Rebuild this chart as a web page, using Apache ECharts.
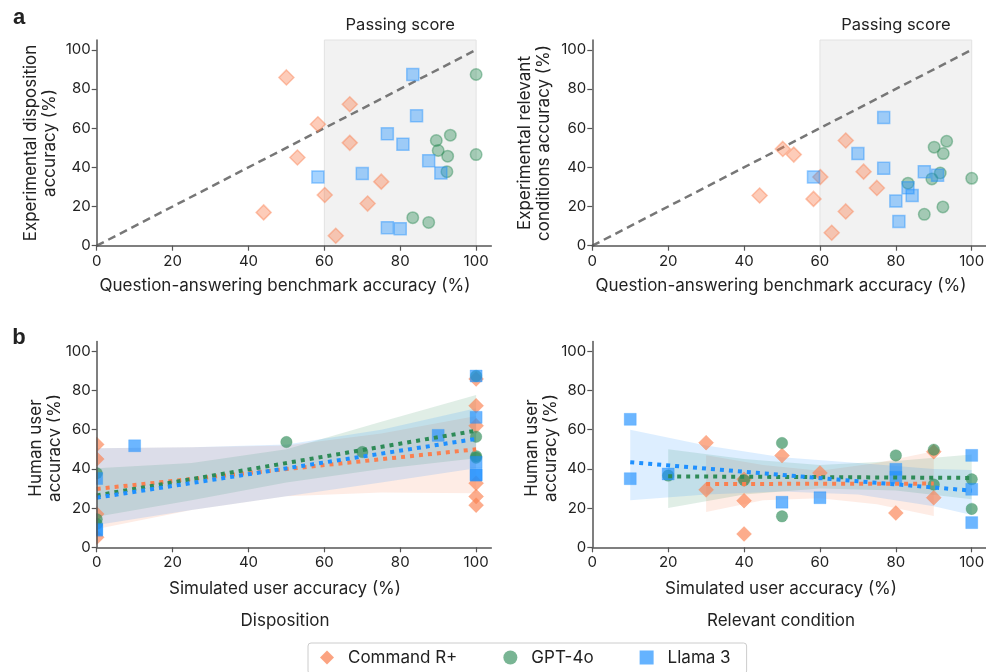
<!DOCTYPE html>
<html>
<head>
<meta charset="utf-8">
<script src="https://cdn.jsdelivr.net/npm/echarts@6/dist/echarts.min.js"></script>
<style>html,body{margin:0;padding:0;background:#fff}#c{width:986px;height:672px}</style>
</head>
<body>
<div id="c"></div>
<script>
// ---------- DATA ----------
const models = ['Command R+', 'GPT-4o', 'Llama 3'];
const xTicks = [0, 20, 40, 60, 80, 100];
const yTicks = [0, 20, 40, 60, 80, 100];

// panel a, left: QA benchmark accuracy vs experimental disposition accuracy
const cmdDispTop = [[50.0,85.9],[66.7,72.2],[58.3,62.0],[66.7,52.5],[52.9,45.0],[60.1,25.9],[71.4,21.5],[75.0,32.7],[44.0,17.0],[63.0,5.1]];
const gptDispTop = [[100,87.4],[100,46.5],[93.2,56.4],[89.5,53.7],[90.0,48.6],[92.5,45.7],[92.3,37.8],[83.3,14.3],[87.5,11.9]];
const llamaDispTop = [[83.3,87.4],[84.3,66.3],[76.6,57.1],[80.7,51.8],[87.5,43.4],[90.7,37.1],[70.0,36.8],[58.3,35.1],[76.6,9.2],[80.0,8.7]];

// panel a, right: QA benchmark accuracy vs experimental relevant conditions accuracy
const cmdRelTop = [[50.2,49.4],[53.1,46.5],[66.8,53.7],[60.1,35.1],[71.5,37.8],[75.0,29.5],[44.1,25.6],[58.3,23.9],[66.8,17.5],[63.1,6.6]];
const gptRelTop = [[93.4,53.3],[90.1,50.3],[92.5,47.0],[91.7,37.1],[89.5,34.1],[83.2,31.9],[100,34.4],[92.4,19.8],[87.5,16.0]];
const llamaRelTop = [[76.8,65.4],[70.0,47.0],[76.8,39.5],[87.5,37.8],[91.0,35.9],[58.3,35.1],[83.2,29.6],[84.3,25.6],[80.0,22.8],[80.8,12.4]];

// panel b, left: simulated user accuracy vs human user accuracy (disposition)
const cmdDispSim = [[100,85.9],[100,72.2],[100,62.0],[0,52.5],[0,45.0],[100,25.9],[100,21.5],[100,32.7],[0,17.0],[0,5.1]];
const gptDispSim = [[100,87.4],[100,46.5],[100,56.4],[50,53.7],[70,48.6],[100,45.7],[0,37.8],[0,14.3],[0,11.9]];
const llamaDispSim = [[100,87.4],[100,66.3],[90,57.1],[10,51.8],[100,43.4],[100,37.1],[100,36.8],[0,35.1],[0,9.2],[0,8.7]];

// panel b, right: simulated user accuracy vs human user accuracy (relevant condition)
const cmdRelSim = [[30,53.4],[30,29.3],[40,34.7],[40,23.8],[40,6.8],[50,46.8],[60,37.9],[80,17.5],[90,48.8],[90,25.3]];
const gptRelSim = [[20,36.6],[40,34.2],[50,53.2],[50,15.8],[80,46.9],[90,49.8],[90,32.0],[100,34.7],[100,19.6]];
const llamaRelSim = [[10,65.3],[10,35.0],[20,37.4],[50,23.0],[60,25.3],[80,39.8],[80,35.7],[100,46.9],[100,29.6],[100,12.6]];

// fitted trend lines
const cmdDispFit = [[0,29.8],[100,50.0]];
const gptDispFit = [[0,26.5],[100,59.5]];
const llamaDispFit = [[0,25.3],[100,55.3]];
const cmdRelFit = [[30,32.3],[90,32.5]];
const gptRelFit = [[20,36.2],[100,35.4]];
const llamaRelFit = [[10,43.4],[100,28.9]];

// confidence bands: x, upper, lower
const cmdDispBandX = [0,25,50,75,100];
const cmdDispBandUp = [50.5,51,52,58,67];
const cmdDispBandLo = [9.4,19,26,28,27.6];
const gptDispBandX = [0,25,50,75,100];
const gptDispBandUp = [40.3,43,50,64,77.7];
const gptDispBandLo = [15.6,24,33,40,45.4];
const llamaDispBandX = [0,25,50,75,100];
const llamaDispBandUp = [50.5,51,52.5,60,71];
const llamaDispBandLo = [11.4,19,26,33,40.3];

const cmdRelBandX = [30,45,60,75,90];
const cmdRelBandUp = [47,42,39,43,49];
const cmdRelBandLo = [18,24,25,22,16];
const gptRelBandX = [20,40,60,80,100];
const gptRelBandUp = [50,45,42,44,47.4];
const gptRelBandLo = [20,27,30,29,24.5];
const llamaRelBandX = [10,30,50,70,90,100];
const llamaRelBandUp = [60,52,46,43,40,39.5];
const llamaRelBandLo = [24,27,28.5,27,21,16.5];

const diagLine = [[0,0],[100,100]];
const passRange = [60, 100];

// ---------- STYLE ----------
const RGB = {'Command R+':[250,128,80], 'GPT-4o':[46,139,87], 'Llama 3':[30,144,255]};
const SYM = {'Command R+':'diamond', 'GPT-4o':'circle', 'Llama 3':'rect'};
const SIZE = {'Command R+':15, 'GPT-4o':11.5, 'Llama 3':12};
const rgba = (m,a) => 'rgba(' + RGB[m].join(',') + ',' + a + ')';
const FONT = 'Inter, "Noto Sans", sans-serif';

const gridDefs = [
  {left:96.7, top:40, width:394.6, height:205.7},
  {left:592.3, top:40, width:394.6, height:205.7},
  {left:96.7, top:341.5, width:394.6, height:205.8},
  {left:592.3, top:341.5, width:394.6, height:205.8}
];

function xAx(i){
  return {type:'value', gridIndex:i, min:0, max:104, z:10,
    axisLine:{show:true, onZero:false, lineStyle:{color:'#555', width:1.5}},
    axisTick:{show:true, customValues:xTicks, length:5, lineStyle:{color:'#555', width:1.2}},
    axisLabel:{customValues:xTicks, color:'#222', fontSize:15, fontFamily:FONT, margin:8},
    splitLine:{show:false}};
}
function yAx(i){
  return {type:'value', gridIndex:i, min:0, max:105, z:10,
    axisLine:{show:true, onZero:false, lineStyle:{color:'#555', width:1.5}},
    axisTick:{show:true, customValues:yTicks, length:5, lineStyle:{color:'#555', width:1.2}},
    axisLabel:{customValues:yTicks, color:'#222', fontSize:15, fontFamily:FONT, margin:6},
    splitLine:{show:false}};
}

const series = [];
function scatter(m, data, gi, top){
  series.push({type:'scatter', name:m, xAxisIndex:gi, yAxisIndex:gi, data:data,
    symbol:SYM[m], symbolSize:SIZE[m], z:5,
    itemStyle: top ? {color:rgba(m,0.5), borderColor:rgba(m,0.55), borderWidth:1.5}
                   : {color:rgba(m,0.82), borderColor:rgba(m,0.3), borderWidth:1}});
}
function fit(m, data, gi){
  series.push({type:'line', name:m+' fit', xAxisIndex:gi, yAxisIndex:gi, data:data,
    symbol:'none', z:6, silent:true,
    lineStyle:{color:rgba(m,1), width:4, type:[4,5], cap:'butt'}});
}
function band(m, xs, up, lo, gi){
  series.push({type:'custom', name:m+' band', xAxisIndex:gi, yAxisIndex:gi, data:[[xs[0], up[0]]],
    silent:true, z:2,
    renderItem:function(params, api){
      const pts = [];
      for (let k=0;k<xs.length;k++) pts.push(api.coord([xs[k], up[k]]));
      for (let k=xs.length-1;k>=0;k--) pts.push(api.coord([xs[k], lo[k]]));
      return {type:'polygon', shape:{points:pts}, style:{fill:rgba(m,0.15), stroke:null}};
    }});
}
function passAndDiag(gi){
  series.push({type:'line', name:'diag'+gi, xAxisIndex:gi, yAxisIndex:gi, data:diagLine,
    symbol:'none', z:4, silent:true,
    lineStyle:{color:'#777', width:2.5, type:[8,5]},
    markArea:{silent:true, itemStyle:{color:'#f2f2f2', borderColor:'#e2e2e2', borderWidth:1},
      label:{show:true, position:'top', distance:6, formatter:'Passing score', color:'#222', fontSize:16.5, fontFamily:FONT},
      data:[[{xAxis:passRange[0], yAxis:0},{xAxis:passRange[1], yAxis:105}]]}});
}

// panel a
passAndDiag(0); passAndDiag(1);
scatter('Command R+', cmdDispTop, 0, true);
scatter('GPT-4o', gptDispTop, 0, true);
scatter('Llama 3', llamaDispTop, 0, true);
scatter('Command R+', cmdRelTop, 1, true);
scatter('GPT-4o', gptRelTop, 1, true);
scatter('Llama 3', llamaRelTop, 1, true);

// panel b
band('Command R+', cmdDispBandX, cmdDispBandUp, cmdDispBandLo, 2);
band('GPT-4o', gptDispBandX, gptDispBandUp, gptDispBandLo, 2);
band('Llama 3', llamaDispBandX, llamaDispBandUp, llamaDispBandLo, 2);
band('Command R+', cmdRelBandX, cmdRelBandUp, cmdRelBandLo, 3);
band('GPT-4o', gptRelBandX, gptRelBandUp, gptRelBandLo, 3);
band('Llama 3', llamaRelBandX, llamaRelBandUp, llamaRelBandLo, 3);
scatter('Command R+', cmdDispSim, 2, false);
scatter('GPT-4o', gptDispSim, 2, false);
scatter('Llama 3', llamaDispSim, 2, false);
scatter('Command R+', cmdRelSim, 3, false);
scatter('GPT-4o', gptRelSim, 3, false);
scatter('Llama 3', llamaRelSim, 3, false);
fit('Command R+', cmdDispFit, 2);
fit('GPT-4o', gptDispFit, 2);
fit('Llama 3', llamaDispFit, 2);
fit('Command R+', cmdRelFit, 3);
fit('GPT-4o', gptRelFit, 3);
fit('Llama 3', llamaRelFit, 3);

function txt(x, y, s, opt){
  return Object.assign({type:'text', x:x, y:y, silent:true,
    style:Object.assign({text:s, fill:'#222', font:'17px ' + FONT, textAlign:'center', textVerticalAlign:'middle'}, (opt&&opt.style)||{})},
    opt && opt.rotation ? {rotation:opt.rotation} : {});
}
const R = Math.PI/2;
const graphics = [
  // mask so that markers sitting on x = 0 in panel b (left) are cut by the axis, as in the original
  {type:'rect', z:8, silent:true, shape:{x:60, y:336, width:36, height:220}, style:{fill:'#fff'}},
  txt(19, 18, 'a', {style:{font:'bold 22px "Liberation Sans", Arial, sans-serif'}}),
  txt(19, 338, 'b', {style:{font:'bold 22px "Liberation Sans", Arial, sans-serif'}}),
  txt(285, 286, 'Question-answering benchmark accuracy (%)'),
  txt(781, 286, 'Question-answering benchmark accuracy (%)'),
  txt(285, 589, 'Simulated user accuracy (%)'),
  txt(781, 589, 'Simulated user accuracy (%)'),
  txt(285, 621, 'Disposition'),
  txt(781, 621, 'Relevant condition'),
  txt(40, 143, 'Experimental disposition\naccuracy (%)', {rotation:R, style:{lineHeight:19}}),
  txt(534, 143, 'Experimental relevant\nconditions accuracy (%)', {rotation:R, style:{lineHeight:19}}),
  txt(45, 448, 'Human user\naccuracy (%)', {rotation:R, style:{lineHeight:19}}),
  txt(541, 448, 'Human user\naccuracy (%)', {rotation:R, style:{lineHeight:19}})
];

const chart = echarts.init(document.getElementById('c'), null, {renderer:'canvas'});
chart.setOption({
  animation:false,
  backgroundColor:'#fff',
  textStyle:{fontFamily:FONT},
  grid:gridDefs.map(g => Object.assign({containLabel:false, outerBoundsMode:'none'}, g)),
  xAxis:[0,1,2,3].map(xAx),
  yAxis:[0,1,2,3].map(yAx),
  legend:{
    left:308, top:643, width:437,
    padding:[6,16,8,12], itemGap:46, itemWidth:14, itemHeight:14,
    borderColor:'#ccc', borderWidth:1, borderRadius:3,
    selectedMode:false,
    textStyle:{color:'#222', fontSize:17, fontFamily:FONT, padding:[0,0,0,9]},
    data:[
      {name:'Command R+', icon:'diamond', itemStyle:{color:rgba('Command R+',0.9), borderWidth:0}},
      {name:'GPT-4o', icon:'circle', itemStyle:{color:rgba('GPT-4o',0.8), borderWidth:0}},
      {name:'Llama 3', icon:'rect', itemStyle:{color:rgba('Llama 3',0.85), borderWidth:0}}
    ]
  },
  graphic:graphics,
  series:series
});
</script>
</body>
</html>
